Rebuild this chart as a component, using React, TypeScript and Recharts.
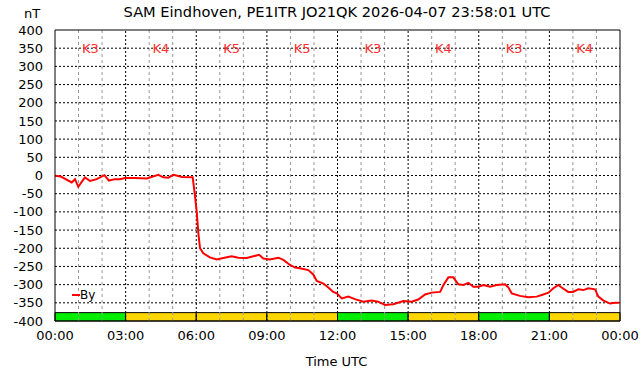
import React from "react";
import {
  LineChart,
  Line,
  XAxis,
  YAxis,
  ReferenceLine,
  ReferenceArea,
  ReferenceDot,
} from "recharts";

// hours since 00:00 UTC
const hours = [
  0, 0.25, 0.71, 0.85, 0.99, 1.27, 1.49, 1.77, 2.1, 2.29, 2.55, 2.76, 2.97, 3.4, 3.9, 4.39, 4.6,
  4.81, 5.03, 5.4, 5.85, 5.95, 6.02, 6.09, 6.16, 6.3, 6.58, 6.87, 7.15, 7.5, 7.79, 8.14, 8.43,
  8.67, 8.85, 9.13, 9.49, 9.7, 9.98, 10.2, 10.4, 10.76, 10.97, 11.12, 11.4, 11.61, 11.82, 11.97,
  12.18, 12.46, 12.74, 13.1, 13.45, 13.73, 14.02, 14.37, 14.8, 15.15, 15.43, 15.72, 16.0, 16.36,
  16.5, 16.71, 16.92, 17.13, 17.35, 17.56, 17.77, 17.98, 18.2, 18.48, 18.76, 19.12, 19.26, 19.4,
  19.75, 20.1, 20.46, 20.74, 20.96, 21.17, 21.38, 21.52, 21.8, 22.0, 22.23, 22.44, 22.65, 22.94,
  23.08, 23.3, 23.58, 23.79, 23.97,
];

// By component, nT
const byValues = [
  -1, -3, -19, -10, -31, -5, -15, -10, 1, -14, -10, -10, -7, -7, -8, 2, -5,
  -6, 2, -4, -5, -58, -100, -159, -200, -214, -225, -231, -227, -222, -226, -227, -222,
  -218, -228, -231, -226, -232, -246, -253, -255, -260, -272, -290, -297, -308, -320, -324,
  -338, -333, -340, -347, -344, -347, -356, -354, -345, -347, -341, -327, -322, -320,
  -301, -280, -280, -299, -301, -295, -306, -306, -301, -306, -301, -299, -308, -324,
  -331, -335, -333, -327, -322, -310, -301, -308, -320, -320, -313, -315, -310, -313,
  -333, -344, -352, -350, -350,
];

// 3-hour K index blocks
const kStart = [0, 3, 6, 9, 12, 15, 18, 21];
const kIndex = [3, 4, 5, 5, 3, 4, 3, 4];

const xTicks = [0, 3, 6, 9, 12, 15, 18, 21, 24];
const yTicks = [-400, -350, -300, -250, -200, -150, -100, -50, 0, 50, 100, 150, 200, 250, 300, 350, 400];
const minorHours = [1, 2, 4, 5, 7, 8, 10, 11, 13, 14, 16, 17, 19, 20, 22, 23];

const data = hours.map((h, i) => ({ h, by: byValues[i] }));

const FONT = "DejaVu Sans, sans-serif";
const fmtHour = (h: number) => `${String(h % 24).padStart(2, "0")}:00`;
const kColor = (k: number) => (k >= 4 ? "#ffd700" : "#00ee00");

const ByLegend = () => (
  <div
    style={{
      position: "absolute",
      left: 72,
      top: 288,
      display: "flex",
      alignItems: "center",
      fontFamily: FONT,
      fontSize: 12,
      color: "#000",
    }}
  >
    <span style={{ display: "inline-block", width: 8, height: 2, background: "#ff0000" }} />
    <span>By</span>
  </div>
);

export default function App() {
  return (
    <div
      style={{
        position: "absolute",
        left: 0,
        top: 0,
        width: 642,
        height: 376,
        background: "#fff",
        fontFamily: FONT,
      }}
    >
      <div
        style={{
          position: "absolute",
          top: 3,
          left: 0,
          width: 674,
          textAlign: "center",
          fontSize: 14.6,
          color: "#000",
        }}
      >
        SAM Eindhoven, PE1ITR JO21QK 2026-04-07 23:58:01 UTC
      </div>
      <div style={{ position: "absolute", top: 6, left: 24, fontSize: 13 }}>nT</div>
      <div
        style={{
          position: "absolute",
          top: 354,
          left: 0,
          width: 673,
          textAlign: "center",
          fontSize: 13,
        }}
      >
        Time UTC
      </div>

      <LineChart
        width={642}
        height={376}
        data={data}
        margin={{ top: 30, right: 22, bottom: 25, left: 0 }}
        style={{ position: "absolute", left: 0, top: 0 }}
      >
        <XAxis
          type="number"
          dataKey="h"
          domain={[0, 24]}
          ticks={xTicks}
          tickFormatter={fmtHour}
          tickLine={false}
          tickSize={8}
          tickMargin={2}
          axisLine={{ stroke: "#000", strokeWidth: 1 }}
          tick={{ fill: "#000", fontSize: 13, fontFamily: FONT }}
          height={30}
          interval={0}
          allowDataOverflow
        />
        <YAxis
          type="number"
          domain={[-400, 400]}
          ticks={yTicks}
          tickLine={false}
          tickSize={10}
          tickMargin={2}
          axisLine={{ stroke: "#000", strokeWidth: 1 }}
          tick={{ fill: "#000", fontSize: 13, fontFamily: FONT }}
          width={55}
          interval={0}
          allowDataOverflow
        />

        {minorHours.map((h) => (
          <ReferenceLine key={`m${h}`} x={h} stroke="#999" strokeDasharray="3 3" strokeWidth={1} />
        ))}
        {xTicks.slice(1, -1).map((h) => (
          <ReferenceLine key={`x${h}`} x={h} stroke="#000" strokeDasharray="2 2" strokeWidth={1} />
        ))}
        {yTicks.slice(1, -1).map((v) => (
          <ReferenceLine key={`y${v}`} y={v} stroke="#000" strokeDasharray="2 2" strokeWidth={1} />
        ))}

        {kStart.map((s, i) => (
          <ReferenceArea
            key={`ka${s}`}
            x1={s}
            x2={s + 3}
            y1={-400}
            y2={-377}
            fill={kColor(kIndex[i])}
            fillOpacity={1}
            stroke="#000"
            strokeWidth={1}
          />
        ))}
        {kStart.map((s, i) => (
          <ReferenceDot
            key={`kl${s}`}
            x={s + 1.5}
            y={350}
            r={0}
            fill="none"
            stroke="none"
            label={{
              value: `K${kIndex[i]}`,
              position: "center",
              fill: "#ff3030",
              fontSize: 13,
              fontFamily: FONT,
            }}
          />
        ))}

        <ReferenceLine y={400} stroke="#000" strokeWidth={1} />
        <ReferenceLine x={24} stroke="#000" strokeWidth={1} />

        <Line
          type="linear"
          dataKey="by"
          stroke="#ff0000"
          strokeWidth={2}
          dot={false}
          isAnimationActive={false}
        />
      </LineChart>
      <ByLegend />
    </div>
  );
}
